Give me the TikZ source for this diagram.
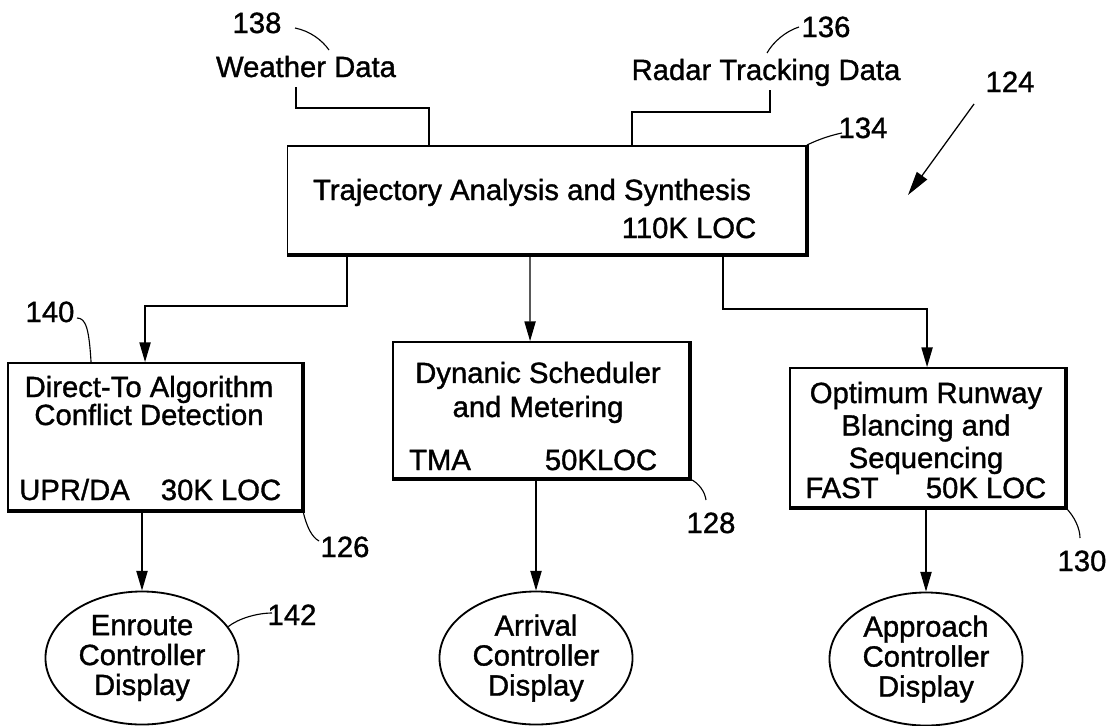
\documentclass[tikz,border=0pt]{standalone}
\usepackage{fontspec}
\setmainfont{Liberation Sans}[FakeBold=1.2]
\usetikzlibrary{arrows.meta, shapes.geometric, calc}

\begin{document}
\begin{tikzpicture}[
  x=0.025cm, y=-0.025cm,
  box/.style={rectangle, draw=black, line width=1.3pt, inner sep=0pt},
  rim/.style={line width=3pt},
  display/.style={ellipse, draw=black, line width=1.3pt, inner sep=0pt, minimum width=4.825cm, minimum height=3.325cm, align=center, font=\fontsize{20.8}{21.3}\selectfont},
  txt/.style={inner sep=1pt, anchor=base, align=center, font=\fontsize{20.8}{21.3}\selectfont},
  feed/.style={line width=0.9pt},
  arrow/.style={line width=0.9pt, -{Triangle[length=14pt, width=8pt]}},
  lead/.style={line width=0.8pt}
]
  \useasboundingbox (0,0) rectangle (1116,725);

  % Inputs
  \node[txt] (weather) at (306,77) {Weather Data};
  \node[txt] (radar) at (766,80) {Radar Tracking Data};

  % Main flow
  \node[box, minimum width=12.96cm, minimum height=2.7cm] (traj) at (546.75,200) {};
  \node[txt] (trajname) at (532,200) {Trajectory Analysis and Synthesis};
  \node[txt] (trajloc) at (689,238) {110K LOC};

  % Processing stages
  \node[box, minimum width=7.35cm, minimum height=3.675cm] (dt) at (155,436.5) {};
  \node[box, minimum width=7.4cm, minimum height=3.4cm] (dyn) at (541,410) {};
  \node[box, minimum width=6.875cm, minimum height=3.475cm] (opt) at (927.5,437.5) {};

  % multi-line texts sit on their last line
  \node[txt, font=\fontsize{20.8}{19.9}\selectfont] (dtname) at (149,425) {Direct-To Algorithm\\Conflict Detection};
  \node[txt] (dttag) at (74.5,500) {UPR/DA};
  \node[txt] (dtloc) at (221,500) {30K LOC};
  \node[txt, font=\fontsize{20.8}{24.2}\selectfont] (dynname) at (538,417) {Dynanic Scheduler\\and Metering};
  \node[txt] (dyntag) at (440,470) {TMA};
  \node[txt] (dynloc) at (601,470) {50KLOC};
  \node[txt, font=\fontsize{20.8}{23.1}\selectfont] (optname) at (926,468) {Optimum Runway\\Blancing and\\Sequencing};
  \node[txt] (opttag) at (842,498) {FAST};
  \node[txt] (optloc) at (986,498) {50K LOC};

  % Displays
  \node[display] (enroute) at (142,658) {Enroute\\Controller\\Display};
  \node[display] (arrival) at (536,658) {Arrival\\Controller\\Display};
  \node[display] (approach) at (926,659) {Approach\\Controller\\Display};

  % Reference numerals
  \node[txt] (n138) at (257,33) {138};
  \node[txt] (n136) at (826,37) {136};
  \node[txt] (n134) at (863,138) {134};
  \node[txt] (n124) at (1010,92) {124};
  \node[txt] (n140) at (50,322) {140};
  \node[txt] (n126) at (345,557) {126};
  \node[txt] (n128) at (711,533) {128};
  \node[txt] (n130) at (1082,571) {130};
  \node[txt] (n142) at (292,625) {142};

  % Shadow edges
  \draw[rim] (traj.north east) -- (traj.south east) -- (traj.south west);
  \draw[rim] (dt.north east) -- (dt.south east) -- (dt.south west);
  \draw[rim] (dyn.north east) -- (dyn.south east) -- (dyn.south west);
  \draw[rim] (opt.north east) -- (opt.south east) -- (opt.south west);

  % Inputs to trajectory
  \draw[feed] ($(weather.base)+(-10,10)$) -- ++(0,21) -| ($(traj.north west)+(142.5,0)$);
  \draw[feed] ($(radar.base)+(4,10)$) -- ++(0,22) -| ($(traj.north west)+(345.5,0)$);

  % Arrows
  \draw[arrow] ($(traj.south west)+(60.5,0)$) -- ++(0,51) -| ($(dt.north west)+(138,0)$);
  \draw[arrow] ($(traj.south west)+(243.5,0)$) -- ($(dyn.north west)+(138,0)$);
  \draw[arrow] ($(traj.south west)+(436.5,0)$) -- ++(0,54) -| ($(opt.north west)+(138,0)$);
  \draw[arrow] (enroute.north |- dt.south) -- (enroute.north);
  \draw[arrow] (arrival.north |- dyn.south) -- (arrival.north);
  \draw[arrow] (approach.north |- opt.south) -- (approach.north);
  \draw[arrow, -{Triangle[length=17pt, width=9pt]}] ($(n124.base)+(-36,12)$) -- ++(-66,91);

  % Leaders
  \draw[lead] ($(n138.base)+(38,-5)$) .. controls +(15,3) and +(-7,-10) .. ($(weather.base)+(23,-27)$);
  \draw[lead] ($(radar.base)+(1,-27)$) .. controls +(6,-11) and +(-13,4) .. ($(n136.base)+(-27,-10)$);
  \draw[lead] (traj.north east) .. controls +(12,-6) and +(-10,2) .. ($(n134.base)+(-21,-5)$);
  \draw[lead] ($(n140.base)+(27,-4)$) .. controls +(9,0) and +(-2,-33) .. ($(dt.north west)+(84,0)$);
  \draw[lead] (dt.south east) .. controls +(4,17) and +(-7,-4) .. ($(n126.base)+(-26,-16)$);
  \draw[lead] (dyn.south east) .. controls +(9,4) and +(-1,-8) .. ($(n128.base)+(-5,-33)$);
  \draw[lead] (opt.south east) .. controls +(8,8) and +(0,-10) .. ($(n130.base)+(-2,-33)$);
  \draw[lead] (enroute.20) .. controls +(10,-8) and +(-15,0) .. ($(n142.base)+(-20,-12)$);
\end{tikzpicture}
\end{document}
